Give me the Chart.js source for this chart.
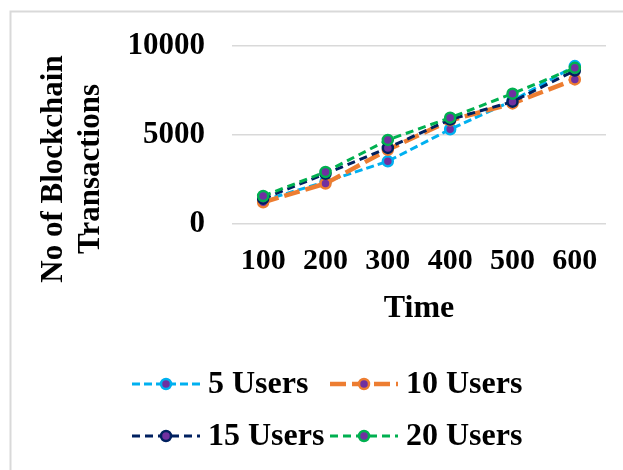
<!DOCTYPE html>
<html>
<head>
<meta charset="utf-8">
<script src="https://cdn.jsdelivr.net/npm/chart.js@4"></script>
<style>
  html, body { margin: 0; padding: 0; background: #ffffff; }
  #wrap { width: 623px; height: 470px; }
</style>
</head>
<body>
<div id="wrap"><canvas id="c" width="623" height="470"></canvas></div>
<script>
// Categories (time) and transaction counts per user group
const times = ['100', '200', '300', '400', '500', '600'];
const users5 = [1300, 2350, 3500, 5300, 6900, 8850];
const users10 = [1200, 2250, 4150, 5800, 6750, 8100];
const users15 = [1400, 2800, 4250, 5850, 6850, 8600];
const users20 = [1550, 2900, 4700, 5950, 7300, 8750];
const seriesNames = ['5 Users', '10 Users', '15 Users', '20 Users'];
const yTickValues = [0, 5000, 10000];
const yTitleLines = ['No of Blockchain', 'Transactions'];
const xTitle = 'Time';

const FONT = '"Liberation Serif", "Times New Roman", serif';
const MARKER = '#7030A0';

function series(label, data, color, dash, width, order) {
  return {
    label, data, order,
    borderColor: color,
    borderWidth: width,
    borderDash: dash,
    backgroundColor: MARKER,
    pointBackgroundColor: MARKER,
    pointBorderColor: color,
    pointBorderWidth: 2.5,
    pointRadius: 5,
    tension: 0,
    fill: false
  };
}

const datasets = [
  series(seriesNames[0], users5, '#00B0F0', [8, 4], 3, 4),
  series(seriesNames[1], users10, '#ED7D31', [16, 6], 4.5, 3),
  series(seriesNames[2], users15, '#002060', [8, 5], 3, 2),
  series(seriesNames[3], users20, '#00B050', [8, 5], 3, 1)
];

// Light frame along the top and left edges
const framePlugin = {
  id: 'frame',
  beforeDraw(chart) {
    const ctx = chart.ctx;
    ctx.save();
    ctx.fillStyle = '#ffffff';
    ctx.fillRect(0, 0, chart.width, chart.height);
    ctx.strokeStyle = '#d9d9d9';
    ctx.lineWidth = 2;
    ctx.beginPath();
    ctx.moveTo(10.5, chart.height);
    ctx.lineTo(10.5, 11.5);
    ctx.lineTo(chart.width, 11.5);
    ctx.stroke();
    ctx.restore();
  }
};

// Two-line vertical axis title
const yTitlePlugin = {
  id: 'yTitle',
  afterDraw(chart, args, opts) {
    const ctx = chart.ctx;
    ctx.save();
    ctx.font = 'bold 31px ' + FONT;
    ctx.fillStyle = '#000000';
    ctx.textAlign = 'center';
    ctx.textBaseline = 'middle';
    ctx.translate(opts.x, opts.y);
    ctx.rotate(-Math.PI / 2);
    yTitleLines.forEach((line, i) => {
      ctx.fillText(line, 0, i * opts.lineGap);
    });
    ctx.restore();
  }
};

// Legend laid out in two aligned columns
const legendPlugin = {
  id: 'gridLegend',
  afterDraw(chart, args, opts) {
    const ctx = chart.ctx;
    chart.data.datasets.forEach((ds, i) => {
      const x0 = opts.cols[i % 2];
      const yc = opts.rows[Math.floor(i / 2)];
      ctx.save();
      ctx.strokeStyle = ds.borderColor;
      ctx.lineWidth = ds.borderWidth;
      ctx.setLineDash(ds.borderDash);
      ctx.beginPath();
      ctx.moveTo(x0, yc);
      ctx.lineTo(x0 + opts.sample, yc);
      ctx.stroke();
      ctx.setLineDash([]);
      ctx.beginPath();
      ctx.arc(x0 + opts.sample / 2, yc, ds.pointRadius, 0, Math.PI * 2);
      ctx.fillStyle = ds.pointBackgroundColor;
      ctx.fill();
      ctx.lineWidth = ds.pointBorderWidth;
      ctx.strokeStyle = ds.pointBorderColor;
      ctx.stroke();
      ctx.font = 'bold 32px ' + FONT;
      ctx.fillStyle = '#000000';
      ctx.textAlign = 'left';
      ctx.textBaseline = 'middle';
      ctx.fillText(ds.label, x0 + opts.sample + 8, yc + 1);
      ctx.restore();
    });
  }
};

new Chart(document.getElementById('c'), {
  type: 'line',
  data: { labels: times, datasets },
  plugins: [framePlugin, yTitlePlugin, legendPlugin],
  options: {
    responsive: false,
    devicePixelRatio: 1,
    animation: false,
    layout: { padding: { top: 42, right: 17, bottom: 142, left: 0 } },
    plugins: {
      legend: { display: false },
      tooltip: { enabled: false },
      yTitle: { x: 54, y: 169, lineGap: 37 },
      gridLegend: { cols: [132, 330], rows: [384, 436], sample: 68 }
    },
    scales: {
      x: {
        offset: true,
        grid: { display: false, drawTicks: false },
        border: { display: false },
        ticks: {
          color: '#000000',
          padding: 20,
          maxRotation: 0,
          font: { family: FONT, size: 30, weight: 'bold', lineHeight: 1.2 }
        },
        title: {
          display: true,
          text: xTitle,
          color: '#000000',
          padding: { top: -10, bottom: 0 },
          font: { family: FONT, size: 32, weight: 'bold', lineHeight: 1.2 }
        }
      },
      y: {
        min: 0,
        max: 10000,
        afterFit(scale) { scale.width = 232; },
        afterBuildTicks(scale) { scale.ticks = yTickValues.map(v => ({ value: v })); },
        grid: { color: '#d9d9d9', lineWidth: 1.5, drawTicks: false },
        border: { display: false },
        ticks: {
          color: '#000000',
          padding: 27,
          callback: v => String(v),
          font: { family: FONT, size: 31, weight: 'bold', lineHeight: 1.2 }
        }
      }
    }
  }
});
</script>
</body>
</html>
